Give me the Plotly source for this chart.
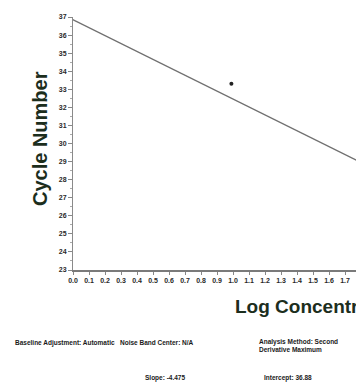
import plotly.graph_objects as go

# Data
fit_log = [-0.045, 1.80]
fit_ct = [37.05, 28.95]
pt_log = [0.99]
pt_ct = [33.3]
x_ticks = [round(i * 0.1, 1) for i in range(0, 19)]
y_ticks = list(range(23, 38))

W, H = 356, 388
L, R, T, B = 73, 0, 17, 118
PW, PH = W - L - R, H - T - B

def px(xp):
    return (xp - L) / PW

def py(yp):
    return (H - B - yp) / PH

fig = go.Figure()
fig.add_trace(go.Scatter(x=fit_log, y=fit_ct, mode="lines",
                         line=dict(color="#707070", width=1.4),
                         cliponaxis=False, showlegend=False, hoverinfo="skip"))
fig.add_trace(go.Scatter(x=pt_log, y=pt_ct, mode="markers",
                         marker=dict(color="#222", size=4),
                         showlegend=False))

tickfont = dict(family="Liberation Sans, Arial", size=7, color="#2a2a2a", weight="bold")
fig.update_xaxes(range=[0, PW / 160.0], tickvals=x_ticks,
                 ticktext=[f"{v:.1f}" for v in x_ticks],
                 showline=True, linecolor="#7a7a7a", linewidth=1.5,
                 ticks="outside", ticklen=3, tickcolor="#888",
                 showgrid=False, zeroline=False, tickfont=tickfont)
fig.update_yaxes(range=[23, 37], tickvals=y_ticks,
                 ticktext=[str(v) for v in y_ticks],
                 showline=True, linecolor="#8a8a8a", linewidth=1,
                 ticks="outside", ticklen=4, tickcolor="#888",
                 minor=dict(ticks="outside", ticklen=2, dtick=0.5, tickcolor="#aaa"),
                 showgrid=False, zeroline=False, tickfont=tickfont)

title_col = "#1c2e1d"
annos = [
    dict(x=px(40), y=py(139), text="Cycle Number", textangle=-90,
         font=dict(family="Liberation Sans, Arial", size=20, color=title_col, weight="bold"),
         xanchor="center", yanchor="middle"),
    dict(x=px(233), y=py(306), text="Log Concentration",
         font=dict(family="Liberation Sans, Arial", size=19, color=title_col, weight="bold"),
         xanchor="left", yanchor="middle"),
    dict(x=px(13), y=py(343), text="Baseline Adjustment: Automatic&nbsp;&nbsp;&nbsp;Noise Band Center: N/A",
         font=dict(family="Liberation Sans, Arial", size=6.5, color="#1a1a1a", weight="bold"),
         xanchor="left", yanchor="middle"),
    dict(x=px(257), y=py(345), text="Analysis Method: Second<br>Derivative Maximum",
         font=dict(family="Liberation Sans, Arial", size=6.5, color="#1a1a1a", weight="bold"),
         xanchor="left", yanchor="middle", align="left"),
    dict(x=px(143), y=py(378), text="Slope: -4.475",
         font=dict(family="Liberation Sans, Arial", size=6.5, color="#1a1a1a", weight="bold"),
         xanchor="left", yanchor="middle"),
    dict(x=px(262), y=py(378), text="Intercept: 36.88",
         font=dict(family="Liberation Sans, Arial", size=6.5, color="#1a1a1a", weight="bold"),
         xanchor="left", yanchor="middle"),
]
for a in annos:
    a.update(xref="paper", yref="paper", showarrow=False)

fig.update_layout(width=W, height=H, margin=dict(l=L, r=R, t=T, b=B, pad=0),
                  paper_bgcolor="white", plot_bgcolor="white",
                  annotations=annos, showlegend=False)
fig.write_html("out.html")
